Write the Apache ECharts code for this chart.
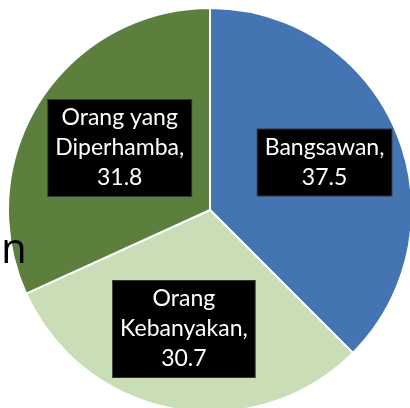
<!DOCTYPE html>
<html>
<head>
<meta charset="utf-8">
<script src="https://cdn.jsdelivr.net/npm/echarts@6/dist/echarts.min.js"></script>
<style>
  html, body { margin: 0; padding: 0; background: #fff; }
  #chart { width: 410px; height: 408px; }
</style>
</head>
<body>
<div id="chart"></div>
<script>
// data
var categories = ['Bangsawan', 'Orang Kebanyakan', 'Orang yang Diperhamba'];
var values = [37.5, 30.7, 31.8];
var colors = ['#4574b3', '#c9ddb6', '#5c7f3e'];

var pieData = categories.map(function (name, i) {
    return { name: name, value: values[i], itemStyle: { color: colors[i] } };
});

var myChart = echarts.init(document.getElementById('chart'));

var option = {
    animation: false,
    graphic: [
        {
            type: 'text',
            left: 1,
            top: 230,
            z: 10,
            style: {
                text: 'n',
                fill: '#000',
                font: '42px "Open Sans", sans-serif'
            }
        }
    ],
    series: [
        {
            // the slices
            type: 'pie',
            center: [210, 210],
            radius: 202,
            startAngle: 90,
            clockwise: true,
            silent: true,
            label: { show: false },
            labelLine: { show: false },
            itemStyle: { borderColor: '#fff', borderWidth: 2 },
            data: pieData
        },
        {
            // labels only, bigger radius so 'inside' lands at ~0.6R
            type: 'pie',
            center: [210, 210],
            radius: [0, 242],
            startAngle: 90,
            clockwise: true,
            silent: true,
            itemStyle: { color: 'rgba(0,0,0,0)', borderWidth: 0 },
            label: {
                show: true,
                position: 'inside',
                formatter: function (p) {
                    return p.name.replace(/ (\S+)$/, '\n$1') + ',\n' + p.value;
                },
                color: '#fff',
                backgroundColor: '#000',
                borderColor: '#333',
                borderWidth: 1,
                fontFamily: 'Lato',
                fontSize: 23,
                lineHeight: 30,
                padding: [4, 7, 2, 7],
                align: 'center'
            },
            labelLayout: function (p) {
                // the last label sits a little closer to the centre
                if (p.dataIndex === 2) {
                    return { dx: 14, dy: 5 };
                }
                if (p.dataIndex === 1) {
                    return { dx: -4, dy: -3 };
                }
            },
            labelLine: { show: false },
            data: categories.map(function (name, i) {
                return { name: name, value: values[i] };
            })
        }
    ]
};

myChart.setOption(option);
</script>
</body>
</html>
